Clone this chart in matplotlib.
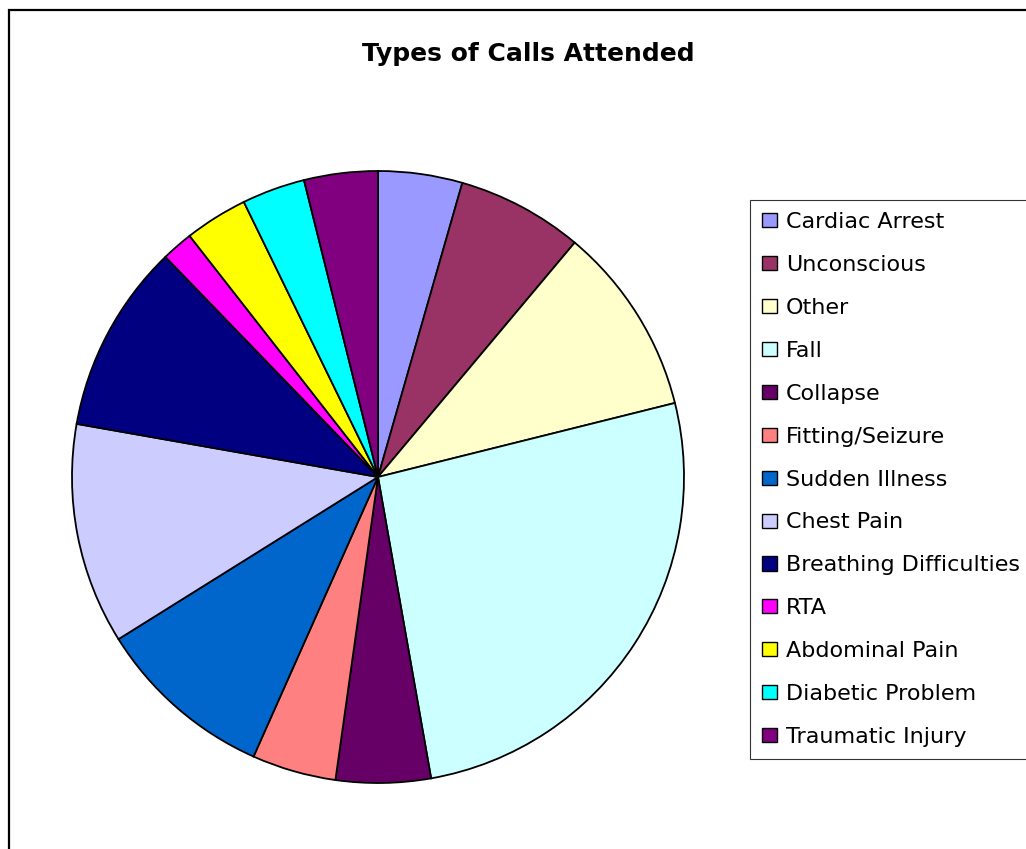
import matplotlib.pyplot as plt
from matplotlib.patches import Rectangle

categories = [
    "Cardiac Arrest",
    "Unconscious",
    "Other",
    "Fall",
    "Collapse",
    "Fitting/Seizure",
    "Sudden Illness",
    "Chest Pain",
    "Breathing Difficulties",
    "RTA",
    "Abdominal Pain",
    "Diabetic Problem",
    "Traumatic Injury",
]
calls = [8, 12, 18, 47, 9, 8, 17, 21, 18, 3, 6, 6, 7]
colors = [
    "#9999FF", "#993366", "#FFFFCC", "#CCFFFF", "#660066", "#FF8080",
    "#0066CC", "#CCCCFF", "#000080", "#FF00FF", "#FFFF00", "#00FFFF",
    "#800080",
]

plt.rcParams["font.family"] = ["DejaVu Sans"]

W, H = 1026, 849
fig = plt.figure(figsize=(W / 100, H / 100), dpi=100)

# chart area border (clipped on the right and bottom like the original)
fig.patches.append(
    Rectangle((9 / W, -0.1), 1.2, 1 - 10 / H + 0.1, transform=fig.transFigure,
              fill=False, edgecolor="black", linewidth=1.6)
)

# pie: centre (378, 477) px, radius 306 px
cx, cy, r = 378, 477, 306
ax = fig.add_axes([(cx - r) / W, (H - cy - r) / H, 2 * r / W, 2 * r / H])
wedges, _ = ax.pie(
    calls,
    colors=colors,
    startangle=90,
    counterclock=False,
    radius=1,
    wedgeprops=dict(edgecolor="black", linewidth=1.3),
)
ax.set_xlim(-1, 1)
ax.set_ylim(-1, 1)
ax.set_aspect("equal")
ax.axis("off")

fig.text(528 / W, 1 - 61 / H, "Types of Calls Attended", ha="center", va="baseline",
         fontsize=18, fontweight="bold")

leg = fig.legend(
    wedges, categories,
    loc="upper left",
    bbox_to_anchor=(750 / W, 1 - 200 / H),
    bbox_transform=fig.transFigure,
    fontsize=16,
    frameon=True,
    fancybox=False,
    edgecolor="black",
    borderpad=0.55,
    labelspacing=1.03,
    handlelength=0.68,
    handleheight=0.6,
    handletextpad=0.4,
    borderaxespad=0,
)
leg.get_frame().set_linewidth(0.8)
for h in leg.legend_handles:
    h.set_linewidth(1.0)

fig.savefig("out.png", dpi=100)
